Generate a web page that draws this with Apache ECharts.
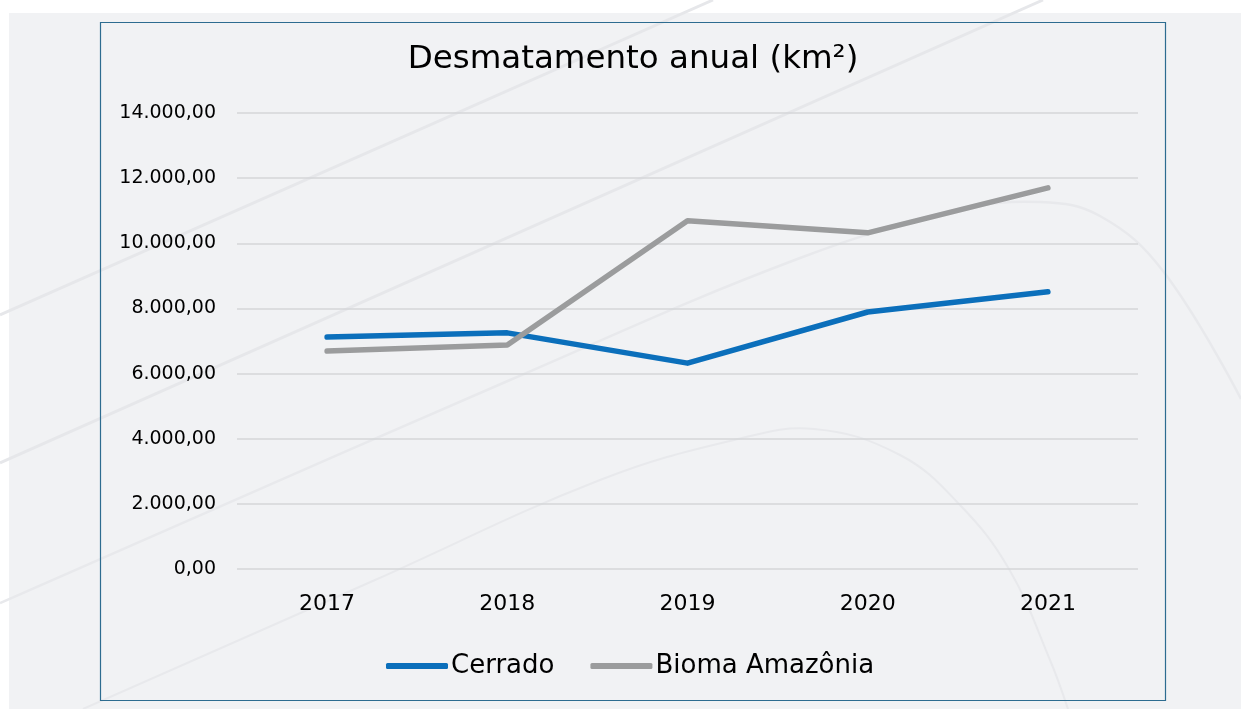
<!DOCTYPE html>
<html><head><meta charset="utf-8">
<script src="https://cdn.jsdelivr.net/npm/echarts@6/dist/echarts.min.js"></script>
<style>html,body{margin:0;padding:0;background:#fff}#c{width:1241px;height:709px}</style>
</head><body><div id="c"></div>
<script>
const categories = ['2017','2018','2019','2020','2021'];
const cerrado = [7120, 7250, 6320, 7890, 8510];
const amazonia = [6690, 6880, 10690, 10320, 11700];
const yTicks = {min:0, max:14000, interval:2000};

function fmt(v){
  const s = Math.round(v).toString().replace(/\B(?=(\d{3})+(?!\d))/g,'.');
  return s + ',00';
}
const F = '"DejaVu Sans", "Noto Sans", sans-serif';
const chart = echarts.init(document.getElementById('c'), null, {renderer:'canvas'});
chart.setOption({
  backgroundColor:'#ffffff',
  animation:false,
  graphic:[
    {type:'rect', z:-10, shape:{x:9,y:13,width:1232,height:696}, style:{fill:'#f1f2f4'}},
    {type:'line', z:-9, shape:{x1:0,y1:315,x2:713,y2:0}, style:{stroke:'#e6e7ea',lineWidth:3}},
    {type:'line', z:-9, shape:{x1:0,y1:463,x2:1043,y2:0}, style:{stroke:'#e6e7ea',lineWidth:3}},
    {type:'polyline', z:-9, shape:{smooth:0.4, points:[[0,603],[510,380],[800,258],[960,210],[1040,202],[1100,216],[1163,271],[1241,399]]}, style:{stroke:'#e8e9ec',lineWidth:2.5,fill:'none'}},
    {type:'polyline', z:-9, shape:{smooth:0.4, points:[[83,709],[375,580],[600,480],[734,440],[814,429],[900,455],[960,505],[1009,569],[1050,660],[1068,709]]}, style:{stroke:'#e8e9ec',lineWidth:2,fill:'none'}},
    {type:'rect', z:-8, shape:{x:100.5,y:22.5,width:1065,height:678}, style:{fill:'none',stroke:'#2d6c90',lineWidth:1.2}}
  ],
  title:{text:'Desmatamento anual (km²)', left:628, top:38, textAlign:'center',
    textStyle:{fontFamily:F, fontSize:32.5, fontWeight:'normal', color:'#000'}},
  legend:{top:648, left:381, itemWidth:62, itemHeight:6, itemGap:36,
    icon:'roundRect',
    textStyle:{fontFamily:F, fontSize:26, color:'#000', padding:[0,0,0,-2]},
    data:['Cerrado','Bioma Amazônia']},
  grid:{left:237, right:103, top:113, bottom:140, containLabel:false},
  xAxis:{type:'category', data:categories, boundaryGap:true,
    axisLine:{show:false}, axisTick:{show:false},
    axisLabel:{fontFamily:F, fontSize:22, color:'#000', margin:24}},
  yAxis:{type:'value', min:yTicks.min, max:yTicks.max, interval:yTicks.interval,
    axisLine:{show:false}, axisTick:{show:false},
    splitLine:{lineStyle:{color:'#d5d6d8', width:1.5}},
    axisLabel:{fontFamily:F, fontSize:19, color:'#000', margin:21, formatter:fmt}},
  series:[
    {name:'Cerrado', type:'line', data:cerrado, symbol:'none', color:'#0b6fbb',
      lineStyle:{width:5.5, cap:'round', join:'round'}},
    {name:'Bioma Amazônia', type:'line', data:amazonia, symbol:'none', color:'#9b9c9d',
      lineStyle:{width:5.5, cap:'round', join:'round'}}
  ]
});
</script></body></html>
